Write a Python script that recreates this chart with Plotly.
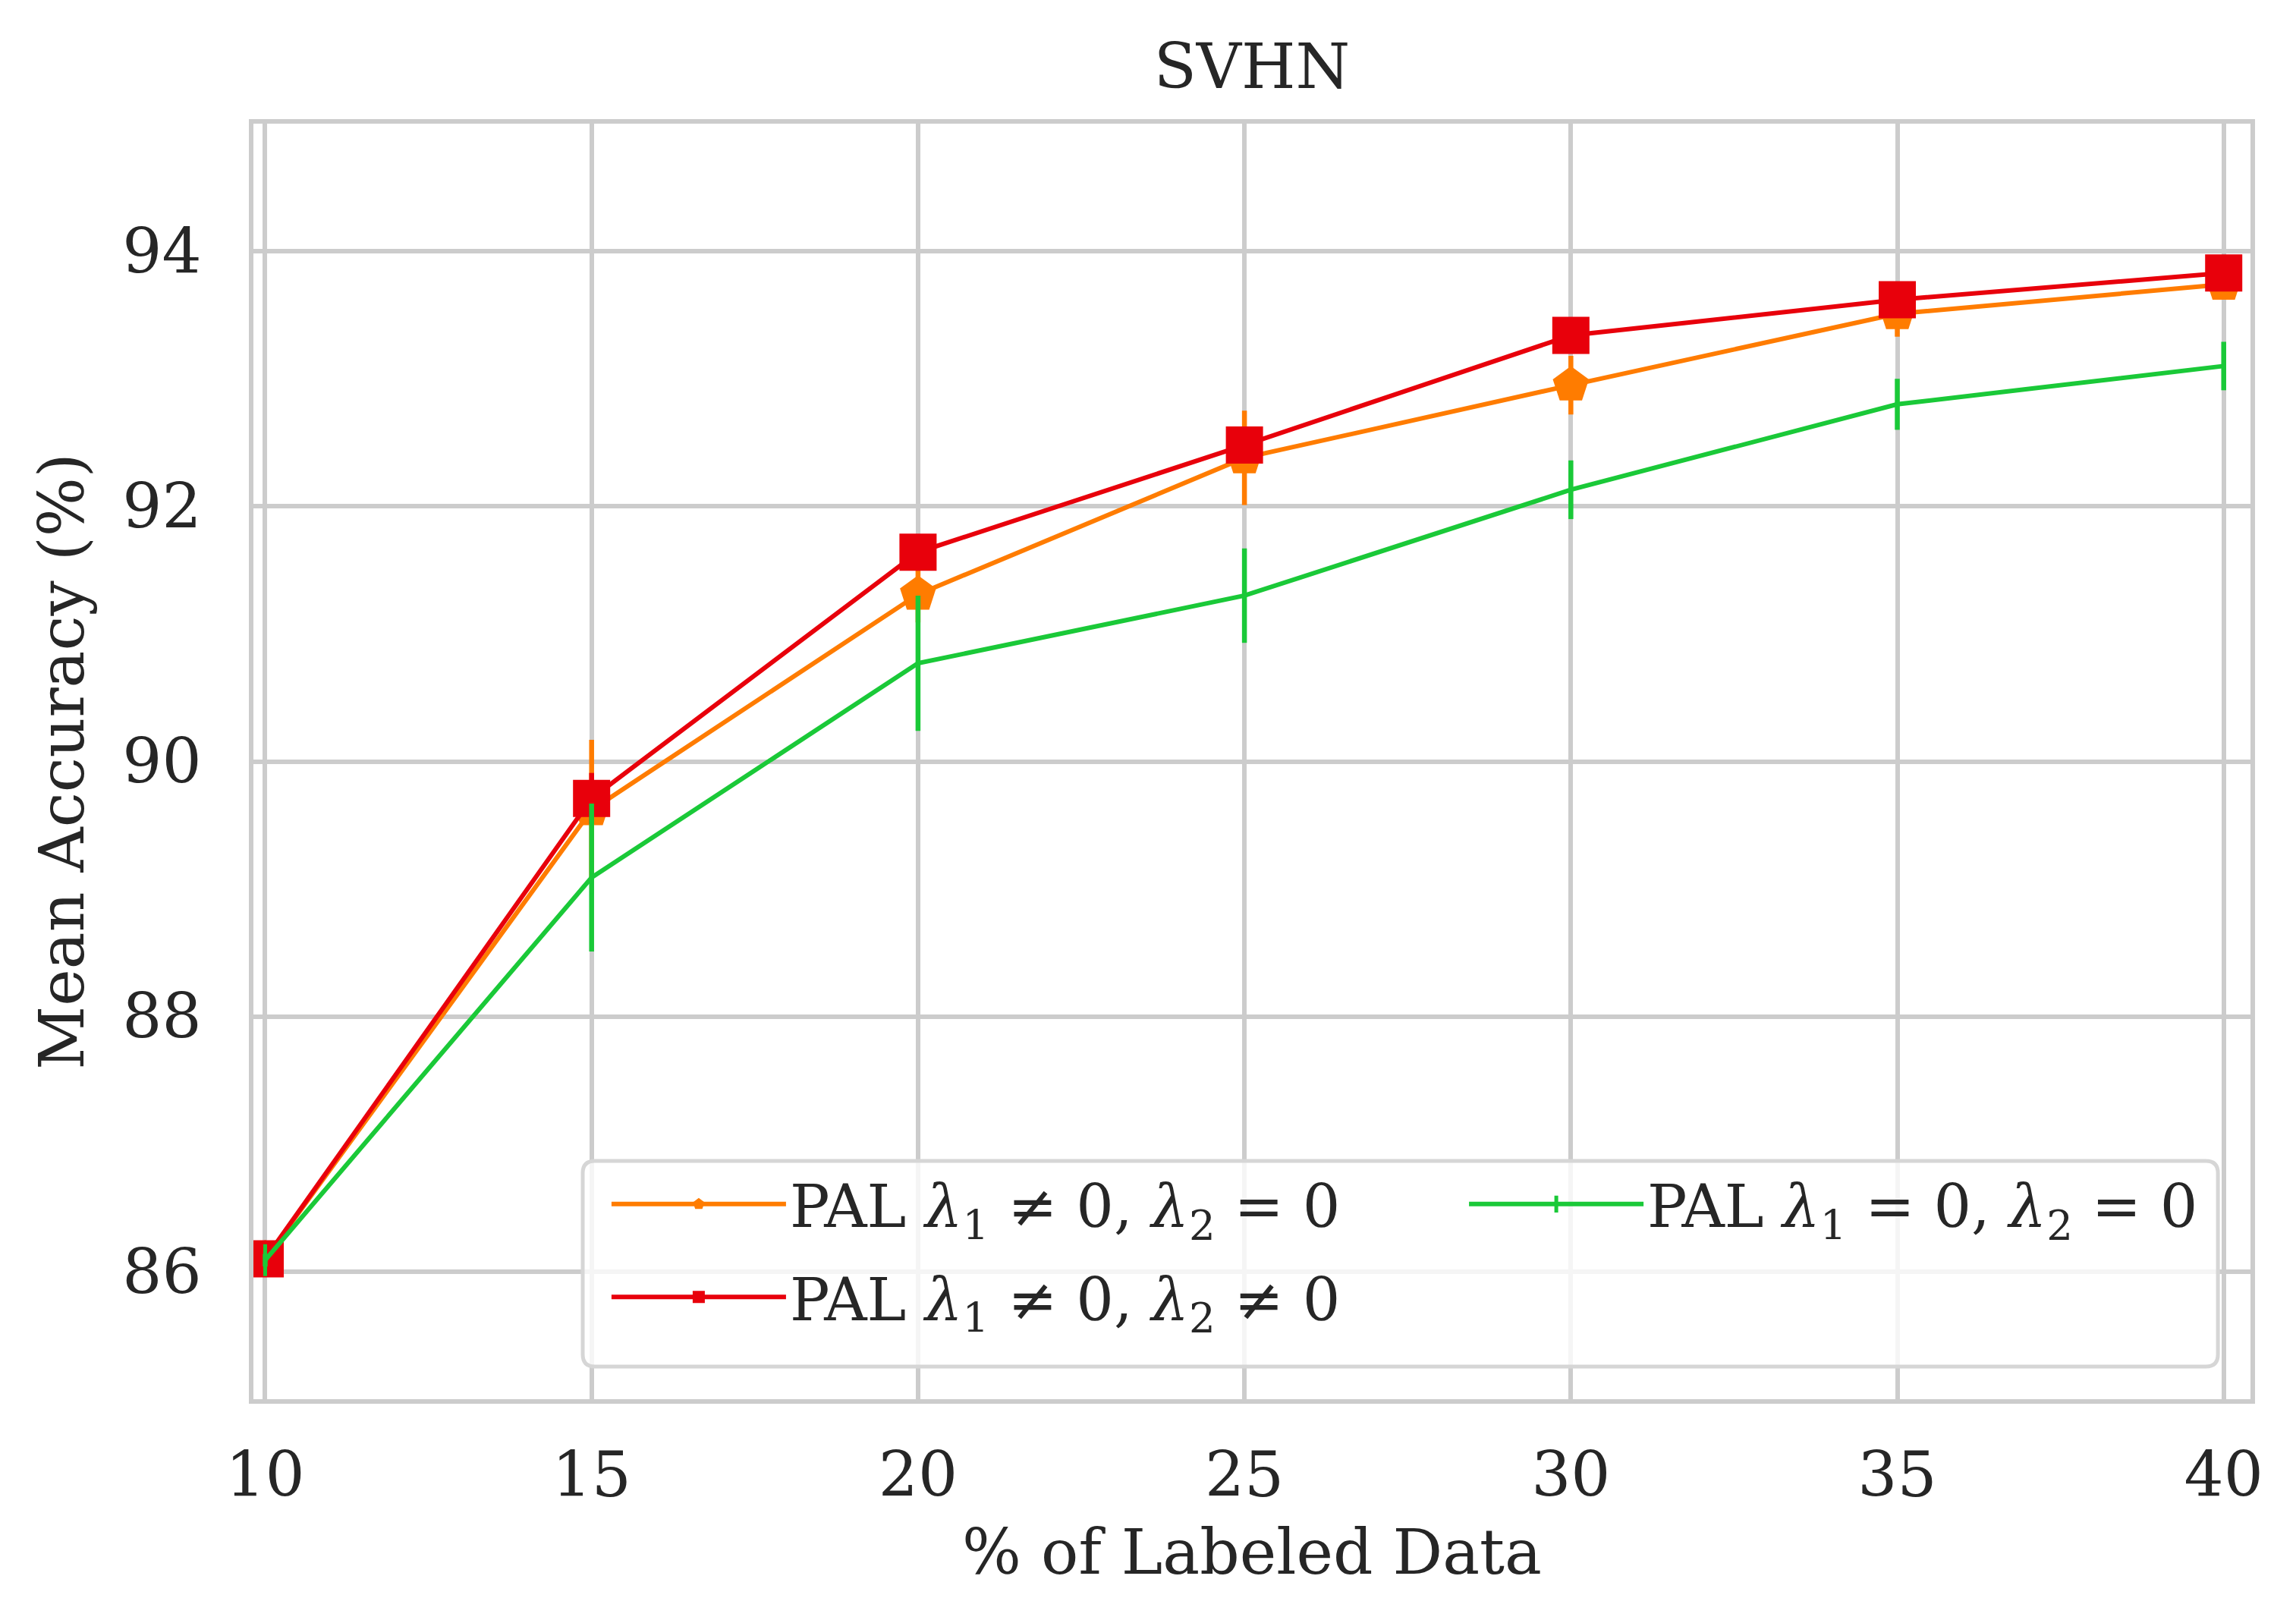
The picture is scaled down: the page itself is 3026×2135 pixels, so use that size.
import plotly.graph_objects as go

labeled = [10, 15, 20, 25, 30, 35, 40]

# PAL lambda1 != 0, lambda2 = 0
acc_l1 = [86.10, 89.62, 91.31, 92.38, 92.95, 93.51, 93.74]
err_l1 = [0.05, 0.55, 0.22, 0.37, 0.23, 0.18, 0.12]

# PAL lambda1 != 0, lambda2 != 0
acc_l12 = [86.10, 89.71, 91.64, 92.48, 93.34, 93.62, 93.83]
err_l12 = [0.05, 0.20, 0.12, 0.12, 0.10, 0.08, 0.06]

# PAL lambda1 = 0, lambda2 = 0
acc_base = [86.09, 89.09, 90.77, 91.30, 92.13, 92.80, 93.10]
err_base = [0.05, 0.58, 0.53, 0.37, 0.23, 0.20, 0.19]

names = [
    "PAL <i>λ</i><sub>1</sub> ≠ 0, <i>λ</i><sub>2</sub> = 0",
    "PAL <i>λ</i><sub>1</sub> ≠ 0, <i>λ</i><sub>2</sub> ≠ 0",
    "PAL <i>λ</i><sub>1</sub> = 0, <i>λ</i><sub>2</sub> = 0",
]

orange = "#ff7c00"
red = "#e8000b"
green = "#1ac938"
txt = "#262626"
gridc = "#cccccc"

fig = go.Figure()

fig.add_trace(go.Scatter(
    x=labeled, y=acc_l1, name=names[0], mode="lines+markers",
    line=dict(color=orange, width=6),
    marker=dict(symbol="pentagon", size=50, color=orange),
    error_y=dict(type="data", array=err_l1, color=orange, thickness=6.5, width=0),
    legend="legend", legendgroup="a", legendrank=1,
))
fig.add_trace(go.Scatter(
    x=labeled, y=acc_l12, name=names[1], mode="lines+markers",
    line=dict(color=red, width=6),
    marker=dict(symbol="square", size=49, color=red),
    error_y=dict(type="data", array=err_l12, color=red, thickness=6.5, width=0),
    legend="legend", legendgroup="b", legendrank=2,
))
fig.add_trace(go.Scatter(
    x=labeled, y=acc_base, name=names[2], mode="lines+markers",
    line=dict(color=green, width=6),
    marker=dict(symbol="line-ns", size=30, color=green, line=dict(color=green, width=5)),
    error_y=dict(type="data", array=err_base, color=green, thickness=6.5, width=0),
    legend="legend2",
))

axis_common = dict(
    showgrid=True, gridcolor=gridc, gridwidth=5.5,
    showline=True, linecolor=gridc, linewidth=6, mirror=True,
    zeroline=False, ticks="",
    tickfont=dict(family="DejaVu Serif", size=82, color=txt),
)

# legend frame (rounded box behind the two legend columns)
bx0, bx1, by0, by1 = 0.1649, 0.9837, 0.0256, 0.1868
rx, ry = 16 / 2632, 16 / 1681
frame = (
    f"M {bx0 + rx},{by0} L {bx1 - rx},{by0} Q {bx1},{by0} {bx1},{by0 + ry} "
    f"L {bx1},{by1 - ry} Q {bx1},{by1} {bx1 - rx},{by1} "
    f"L {bx0 + rx},{by1} Q {bx0},{by1} {bx0},{by1 - ry} "
    f"L {bx0},{by0 + ry} Q {bx0},{by0} {bx0 + rx},{by0} Z"
)

legend_style = dict(
    orientation="v", yanchor="top", xanchor="left",
    bgcolor="rgba(0,0,0,0)", borderwidth=0,
    font=dict(family="DejaVu Serif", size=78, color=txt),
    itemwidth=230, tracegroupgap=18,
)

fig.update_layout(
    width=3026, height=2135,
    paper_bgcolor="white", plot_bgcolor="white",
    margin=dict(l=326, r=68, t=155, b=299),
    font=dict(family="DejaVu Serif", color=txt, size=82),
    title=dict(text="SVHN", x=0.5, xref="paper", xanchor="center",
               y=0.963, yanchor="middle",
               font=dict(family="DejaVu Serif", size=82, color=txt)),
    xaxis=dict(
        range=[9.82, 40.41], tickvals=labeled,
        title=dict(text="% of Labeled Data", font=dict(size=82), standoff=28),
        ticklabelstandoff=24,
        **axis_common,
    ),
    yaxis=dict(
        range=[85, 95], tickvals=[86, 88, 90, 92, 94],
        title=dict(text="Mean Accuracy (%)", font=dict(size=82), standoff=26),
        ticklabelstandoff=46,
        **axis_common,
    ),
    legend=dict(x=0.1774, y=0.187, **legend_style),
    legend2=dict(x=0.6068, y=0.187, **legend_style),
    shapes=[dict(type="path", xref="paper", yref="paper", path=frame,
                 fillcolor="rgba(255,255,255,0.8)",
                 line=dict(color="#d6d6d6", width=5), layer="above")],
    showlegend=True,
)

fig.write_html("out.html")
